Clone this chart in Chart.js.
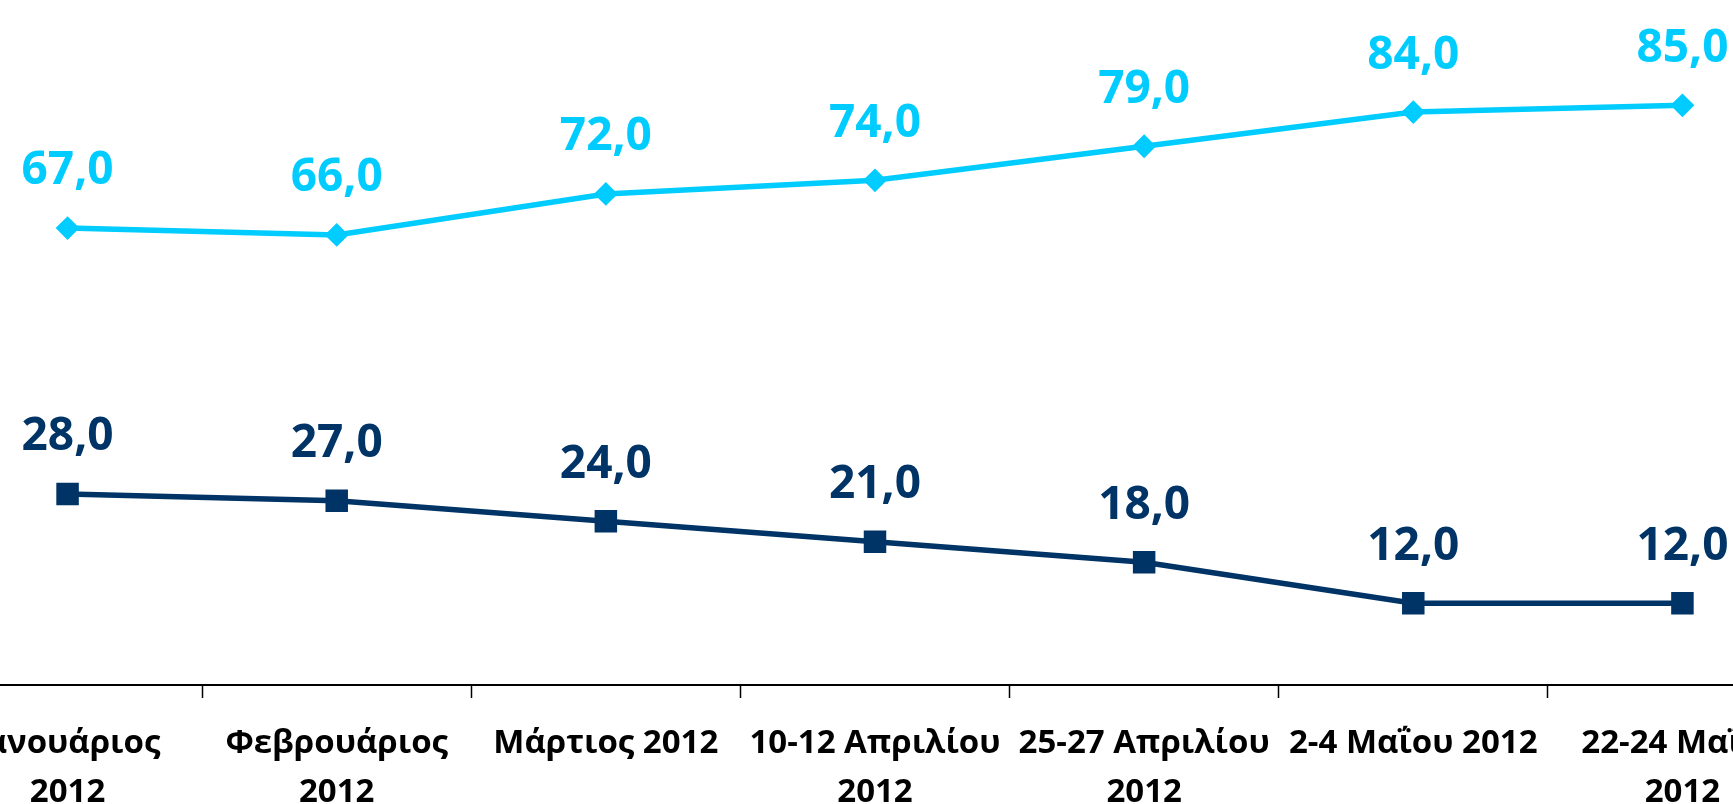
<!DOCTYPE html>
<html>
<head>
<meta charset="utf-8">
<script src="https://cdn.jsdelivr.net/npm/chart.js@4"></script>
<style>
  html, body { margin: 0; padding: 0; width: 1733px; height: 804px; overflow: hidden; background: #fff; }
  #wrap { position: absolute; left: -67px; top: -12px; width: 1884px; height: 847px; }
</style>
</head>
<body>
<div id="wrap"><canvas id="c"></canvas></div>
<script>
const categories = [
  ["Ιανουάριος", "2012"],
  ["Φεβρουάριος", "2012"],
  ["Μάρτιος 2012"],
  ["10-12 Απριλίου", "2012"],
  ["25-27 Απριλίου", "2012"],
  ["2-4 Μαΐου 2012"],
  ["22-24 Μαΐου", "2012"]
];
const seriesUpper = [67, 66, 72, 74, 79, 84, 85];
const seriesLower = [28, 27, 24, 21, 18, 12, 12];
const yRange = [0, 100];

const CYAN = "rgb(0,204,255)";
const NAVY = "rgb(0,51,102)";

const valueLabels = {
  id: "valueLabels",
  afterDatasetsDraw(chart) {
    const ctx = chart.ctx;
    ctx.save();
    ctx.font = "bold 46px 'Open Sans'";
    ctx.textAlign = "center";
    ctx.textBaseline = "alphabetic";
    chart.data.datasets.forEach((ds, i) => {
      const meta = chart.getDatasetMeta(i);
      ctx.fillStyle = ds.borderColor;
      meta.data.forEach((pt, j) => {
        const v = ds.data[j];
        ctx.fillText(v.toFixed(1).replace(".", ","), pt.x, pt.y - 60 + 0.357 * 46);
      });
    });
    ctx.restore();
  }
};

new Chart(document.getElementById("c"), {
  type: "line",
  data: {
    labels: categories,
    datasets: [
      {
        data: seriesUpper,
        borderColor: CYAN,
        backgroundColor: CYAN,
        borderWidth: 5.5,
        pointStyle: "rectRot",
        pointRadius: 10.5,
        pointBorderWidth: 2,
        pointHoverRadius: 10.5,
        tension: 0,
        fill: false
      },
      {
        data: seriesLower,
        borderColor: NAVY,
        backgroundColor: NAVY,
        borderWidth: 5.5,
        pointStyle: "rect",
        pointRadius: 14.5,
        pointBorderWidth: 2,
        pointHoverRadius: 14.5,
        tension: 0,
        fill: false
      }
    ]
  },
  options: {
    responsive: true,
    maintainAspectRatio: false,
    animation: false,
    layout: { autoPadding: false, padding: { top: 15, left: 0, right: 0, bottom: 0 } },
    plugins: { legend: { display: false }, tooltip: { enabled: false } },
    scales: {
      x: {
        offset: true,
        grid: {
          offset: true,
          drawOnChartArea: false,
          drawTicks: true,
          tickLength: 13,
          tickWidth: 1.5,
          tickColor: "#000"
        },
        border: { display: true, color: "#000", width: 2 },
        ticks: {
          autoSkip: false,
          maxRotation: 0,
          minRotation: 0,
          padding: 21,
          color: "#000",
          font: { family: "'Open Sans'", weight: "bold", size: 33, lineHeight: "49px" }
        },
        afterFit(scale) { scale.height = 150; }
      },
      y: {
        display: false,
        min: yRange[0],
        max: yRange[1]
      }
    }
  },
  plugins: [valueLabels]
});
</script>
</body>
</html>
